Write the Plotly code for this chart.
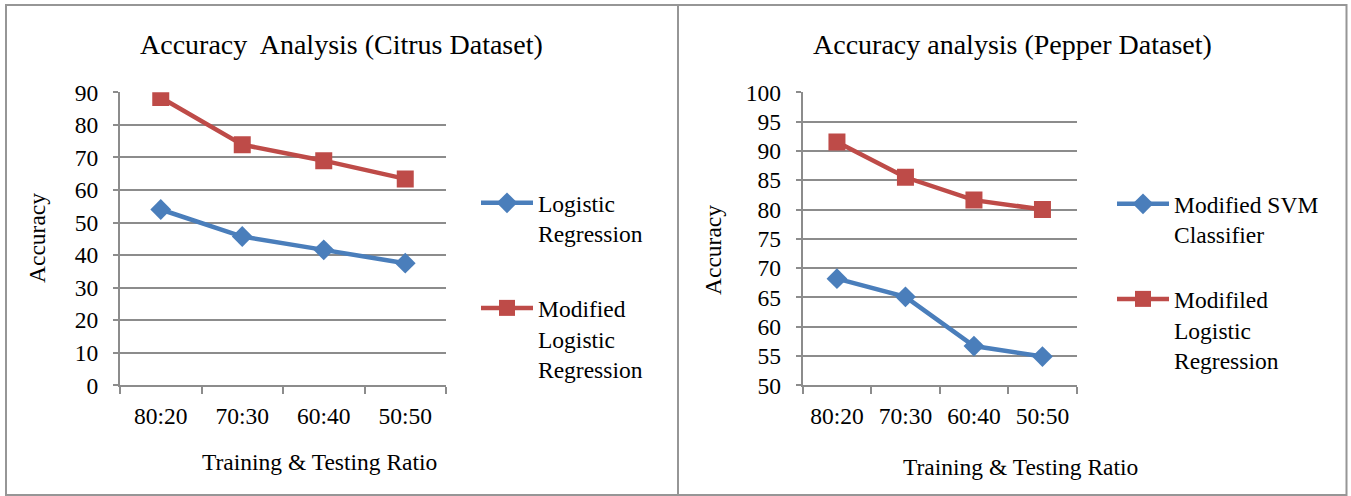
import plotly.graph_objects as go

W, H = 1351, 496

categories = ["80:20", "70:30", "60:40", "50:50"]
citrus_lr = [54.0, 45.7, 41.6, 37.5]
citrus_mlr = [88.4, 73.9, 69.0, 63.4]
pepper_svm = [68.2, 65.1, 56.7, 54.9]
pepper_mlr = [91.5, 85.5, 81.6, 80.0]

citrus_yticks = [0, 10, 20, 30, 40, 50, 60, 70, 80, 90]
pepper_yticks = [50, 55, 60, 65, 70, 75, 80, 85, 90, 95, 100]

title_left = "Accuracy  Analysis (Citrus Dataset)"
title_right = "Accuracy analysis (Pepper Dataset)"
xtitle = "Training & Testing Ratio"
ytitle = "Accuracy"

BLUE = "#4A7EBB"
RED = "#BE4B48"
GRID = "#8C8C8C"
FONT = "Liberation Serif"


def px(x):
    return x / W


def py(y):
    return 1 - y / H


fig = go.Figure()

fig.add_trace(go.Scatter(
    x=categories, y=citrus_lr, name="Logistic<br>Regression",
    mode="lines+markers", line=dict(color=BLUE, width=4.5),
    marker=dict(symbol="diamond", size=16, color=BLUE),
    xaxis="x", yaxis="y", legend="legend", legendgroup="a"))
fig.add_trace(go.Scatter(
    x=categories, y=citrus_mlr, name="Modified<br>Logistic<br>Regression",
    mode="lines+markers", line=dict(color=RED, width=4.5),
    marker=dict(symbol="square", size=17, color=RED),
    xaxis="x", yaxis="y", legend="legend", legendgroup="b"))
fig.add_trace(go.Scatter(
    x=categories, y=pepper_svm, name="Modified SVM<br>Classifier",
    mode="lines+markers", line=dict(color=BLUE, width=4.5),
    marker=dict(symbol="diamond", size=16, color=BLUE),
    xaxis="x2", yaxis="y2", legend="legend2", legendgroup="c"))
fig.add_trace(go.Scatter(
    x=categories, y=pepper_mlr, name="Modifiled<br>Logistic<br>Regression",
    mode="lines+markers", line=dict(color=RED, width=4.5),
    marker=dict(symbol="square", size=17, color=RED),
    xaxis="x2", yaxis="y2", legend="legend2", legendgroup="d"))

xaxis_common = dict(
    type="category", range=[-0.5, 3.5], showgrid=False, automargin=False,
    showline=True, linecolor=GRID, linewidth=2,
    ticks="outside", tickson="boundaries", ticklen=7, tickwidth=2, tickcolor=GRID,
    tickfont=dict(family=FONT, size=23.5, color="#000"), ticklabelstandoff=8,
    zeroline=False, fixedrange=True,
)
yaxis_common = dict(
    showgrid=True, gridcolor=GRID, gridwidth=2, automargin=False,
    showline=True, linecolor=GRID, linewidth=2,
    ticks="outside", ticklen=5, tickwidth=2, tickcolor=GRID,
    tickfont=dict(family=FONT, size=23.5, color="#000"), ticklabelstandoff=10,
    zeroline=False, fixedrange=True,
)

yb, yt = py(385.3), py(92.3)

fig.update_layout(
    template="none",
    width=W, height=H,
    margin=dict(l=0, r=0, t=0, b=0, pad=0),
    paper_bgcolor="white", plot_bgcolor="white",
    font=dict(family=FONT, size=23.5, color="#000"),
    xaxis=dict(domain=[px(120), px(446)], anchor="y", **xaxis_common),
    yaxis=dict(domain=[yb, yt], anchor="x", range=[0, 90],
               tickvals=citrus_yticks, **yaxis_common),
    xaxis2=dict(domain=[px(802.7), px(1076.7)], anchor="y2", **xaxis_common),
    yaxis2=dict(domain=[yb, yt], anchor="x2", range=[50, 100],
                tickvals=pepper_yticks, **yaxis_common),
    legend=dict(x=px(476), y=py(181), xanchor="left", yanchor="top",
                bgcolor="rgba(0,0,0,0)", borderwidth=0, font=dict(family=FONT, size=23.5),
                valign="top", tracegroupgap=41, itemwidth=52, itemclick=False),
    legend2=dict(x=px(1112), y=py(182), xanchor="left", yanchor="top",
                 bgcolor="rgba(0,0,0,0)", borderwidth=0, font=dict(family=FONT, size=23.5),
                 valign="top", tracegroupgap=31, itemwidth=52, itemclick=False),
    showlegend=True,
)

# panel borders
border = dict(color="#969696", width=2)
fig.add_shape(type="rect", xref="paper", yref="paper",
              x0=px(6), x1=px(1346.5), y0=py(495), y1=py(5), line=border)
fig.add_shape(type="line", xref="paper", yref="paper",
              x0=px(678), x1=px(678), y0=py(495), y1=py(5), line=border)

annots = [
    (title_left, 341, 45, 0, 28),
    (title_right, 1013, 45, 0, 28),
    (xtitle, 319, 462, 0, 23.5),
    (xtitle, 1020, 467, 0, 23.5),
    (ytitle, 37, 238, -90, 23.5),
    (ytitle, 713, 250, -90, 23.5),
]
for text, x, y, ang, size in annots:
    fig.add_annotation(text=text, x=px(x), y=py(y), xref="paper", yref="paper",
                       showarrow=False, textangle=ang, xanchor="center", yanchor="middle",
                       font=dict(family=FONT, size=size, color="#000"))

fig.write_html("out.html")
